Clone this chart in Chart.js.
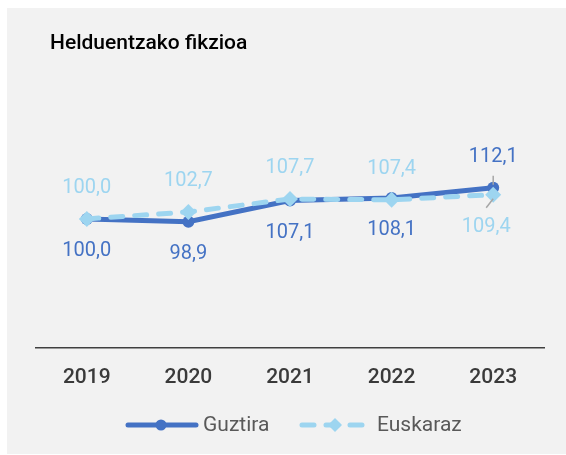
<!DOCTYPE html>
<html><head><meta charset="utf-8">
<script src="https://cdn.jsdelivr.net/npm/chart.js@4"></script>
<style>
html,body{margin:0;padding:0;background:#fff;width:566px;height:455px;overflow:hidden}
#panel{position:absolute;left:7px;top:8px;width:559px;height:446px;background:#f2f2f2}
canvas{display:block}
</style></head><body>
<div id="panel"><canvas id="c" width="559" height="446"></canvas></div>
<script>
const chartTitle = 'Helduentzako fikzioa';
const years = ['2019', '2020', '2021', '2022', '2023'];
const guztira = [100.0, 98.9, 107.1, 108.1, 112.1];
const euskaraz = [100.0, 102.7, 107.7, 107.4, 109.4];
const guztiraLabelPos = ['below', 'below', 'below', 'below', 'above'];
const euskarazLabelPos = ['above', 'above', 'above', 'above', 'below'];
const seriesNames = ['Guztira', 'Euskaraz'];

const BLUE = '#4472c4';
const LIGHT = '#9dd5f0';
const FONT = 'Roboto, "Noto Sans", sans-serif';

const fmt = v => v.toFixed(1).replace('.', ',');

const labelsPlugin = {
  id: 'customLabels',
  afterDatasetsDraw(chart) {
    const ctx = chart.ctx;
    ctx.save();
    ctx.font = '20px ' + FONT;
    ctx.textAlign = 'center';
    ctx.textBaseline = 'middle';
    chart.data.datasets.forEach((ds, di) => {
      const meta = chart.getDatasetMeta(di);
      meta.data.forEach((pt, i) => {
        const pos = ds.labelPos[i];
        const x = pt.x, y = pt.y;
        const last = i === ds.data.length - 1;
        let ly = pos === 'below' ? y + 32 : y - 31;
        let lx = x;
        if (last && pos === 'below') lx = x - 7;
        if (last) {
          ctx.strokeStyle = '#a6a6a6';
          ctx.lineWidth = 1.5;
          ctx.beginPath();
          if (pos === 'above') { ctx.moveTo(x, y - 12); ctx.lineTo(x, y - 3); }
          else { ctx.moveTo(x - 7, y + 13); ctx.lineTo(x, y + 4); }
          ctx.stroke();
        }
        ctx.fillStyle = ds.labelColor;
        ctx.fillText(fmt(ds.data[i]), lx, ly);
      });
    });
    ctx.restore();
  },
  afterDraw(chart) {
    const ctx = chart.ctx;
    ctx.save();
    // title
    ctx.fillStyle = '#000';
    ctx.font = '500 21px ' + FONT;
    ctx.textBaseline = 'middle';
    ctx.textAlign = 'left';
    ctx.fillText(chartTitle, 43, 36);
    // legend
    const ly = 417;
    ctx.lineCap = 'round';
    ctx.strokeStyle = BLUE; ctx.lineWidth = 5;
    ctx.beginPath(); ctx.moveTo(121, ly); ctx.lineTo(189, ly); ctx.stroke();
    ctx.fillStyle = BLUE;
    ctx.beginPath(); ctx.arc(154, ly, 5.5, 0, Math.PI * 2); ctx.fill();
    ctx.fillStyle = '#595959';
    ctx.font = '21px ' + FONT;
    ctx.fillText(seriesNames[0], 196, ly + 1);
    ctx.strokeStyle = LIGHT;
    ctx.setLineDash([12, 12]);
    ctx.beginPath(); ctx.moveTo(295, ly); ctx.lineTo(357, ly); ctx.stroke();
    ctx.setLineDash([]);
    ctx.fillStyle = LIGHT;
    ctx.beginPath(); ctx.moveTo(328, ly - 7); ctx.lineTo(335, ly); ctx.lineTo(328, ly + 7); ctx.lineTo(321, ly); ctx.closePath(); ctx.fill();
    ctx.fillStyle = '#595959';
    ctx.fillText(seriesNames[1], 370, ly + 1);
    ctx.restore();
  }
};

new Chart(document.getElementById('c'), {
  type: 'line',
  data: {
    labels: years,
    datasets: [
      {
        label: seriesNames[0], data: guztira, labelPos: guztiraLabelPos, labelColor: BLUE,
        borderColor: BLUE, backgroundColor: BLUE, borderWidth: 5,
        pointRadius: 6, pointHoverRadius: 6, pointStyle: 'circle', pointBorderWidth: 0,
        tension: 0, order: 2
      },
      {
        label: seriesNames[1], data: euskaraz, labelPos: euskarazLabelPos, labelColor: LIGHT,
        borderColor: LIGHT, backgroundColor: LIGHT, borderWidth: 5,
        borderDash: [12, 12], borderCapStyle: 'round',
        pointRadius: 8, pointHoverRadius: 8, pointStyle: 'rectRot', pointBorderWidth: 0,
        tension: 0, order: 1
      }
    ]
  },
  options: {
    responsive: false,
    animation: false,
    events: [],
    layout: { padding: { top: 82, left: 29, right: 22, bottom: 47 } },
    plugins: { legend: { display: false }, title: { display: false }, tooltip: { enabled: false } },
    scales: {
      x: {
        offset: true,
        grid: { display: false, drawTicks: false },
        border: { display: true, color: '#404040', width: 1.5 },
        ticks: { color: '#3a3a3a', font: { family: FONT, size: 21, weight: '500' }, padding: 17 }
      },
      y: {
        display: false, min: 50, max: 150
      }
    }
  },
  plugins: [labelsPlugin]
});
</script>
</body></html>
